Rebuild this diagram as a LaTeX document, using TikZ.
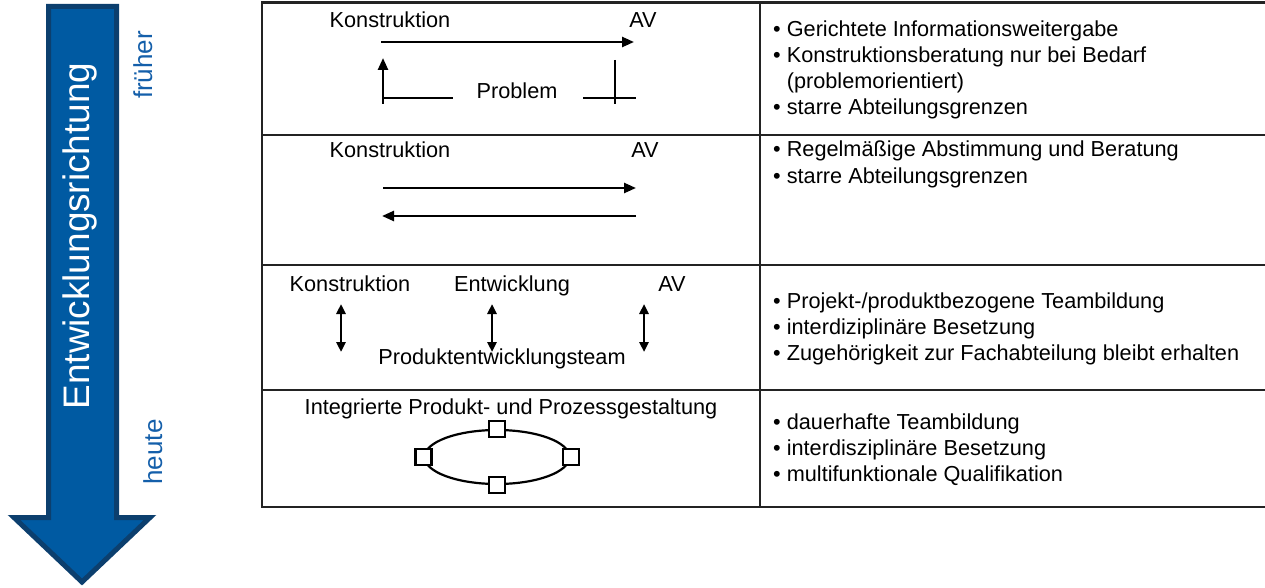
\documentclass[tikz,border=0pt]{standalone}
\usepackage{fontspec}
\setmainfont{Liberation Sans}
\usetikzlibrary{arrows.meta,shapes.geometric}

\definecolor{arrowblue}{RGB}{0,90,162}
\definecolor{arrowdark}{RGB}{12,63,110}
\definecolor{labelblue}{RGB}{20,95,170}
\definecolor{gridgray}{RGB}{35,35,35}

\tikzset{
  txt/.style={font=\fontsize{21.7}{26}\selectfont, inner sep=0pt, anchor=base},
  item/.style={txt, anchor=base west},
  flow/.style={line width=2.5pt, -{Triangle[length=12pt,width=10pt]}},
  twoway/.style={line width=2.5pt, {Triangle[length=10pt,width=9pt]}-{Triangle[length=10pt,width=9pt]}},
  plain/.style={line width=2.5pt},
  member/.style={draw, line width=2.2pt, fill=white, minimum size=16pt, inner sep=0pt},
  rule/.style={gridgray, line width=2.6pt},
}

\begin{document}
\begin{tikzpicture}[x=1pt,y=-1pt]
\useasboundingbox (0,0) rectangle (1265,588);

% Direction arrow
\draw[line width=5pt, fill=arrowblue, draw=arrowdark, line join=miter]
  (48.5,6.5) -- (116.5,6.5) -- (116.5,517.5) -- (150,517.5) -- (82,582)
  -- (14,517.5) -- (48.5,517.5) -- cycle;
\node[font=\fontsize{36.9}{40}\selectfont, white, inner sep=0pt, anchor=base, rotate=90] (dir) at (89.5,236) {Entwicklungsrichtung};
\node[font=\fontsize{26}{30}\selectfont, labelblue, inner sep=0pt, anchor=base, rotate=90] (early) at (152,65) {früher};
\node[font=\fontsize{26}{30}\selectfont, labelblue, inner sep=0pt, anchor=base, rotate=90] (today) at (162,452) {heute};

% Table
\draw[rule] (262,2.5) -- (1280,2.5);
\draw[rule] (262,135) -- (1280,135);
\draw[rule] (262,265) -- (1280,265);
\draw[rule] (262,390) -- (1280,390);
\draw[rule] (262,507) -- (1280,507);
\draw[rule] (262,1.2) -- (262,508.3);
\draw[rule] (760,1.2) -- (760,508.3);

%%%%%%%%%% Row 1 %%%%%%%%%%
\node[txt] (k1) at (390,28) {Konstruktion};
\node[txt] (av1) at (643,28) {AV};
\node[txt] (prob) at (517,99) {Problem};
\coordinate (a1) at (381,42);
\coordinate (b1) at (634,42);
\draw[flow] (a1) -- (b1);
\coordinate (pl0) at (383,104);
\coordinate (pl1) at (383,58);
\coordinate (pl2) at (383,98);
\coordinate (pl3) at (453,98);
\draw[flow] (pl0) -- (pl1);
\draw[plain] (pl2) -- (pl3);
\coordinate (pr0) at (615,60);
\coordinate (pr1) at (615,104);
\coordinate (pr2) at (583,98);
\coordinate (pr3) at (636,98);
\draw[plain] (pr0) -- (pr1);
\draw[plain] (pr2) -- (pr3);

\node[item] (t11) at (773,37) {• Gerichtete Informationsweitergabe};
\node[item] (t12) at (773,63) {• Konstruktionsberatung nur bei Bedarf};
\node[item] (t13) at (773,89) {\phantom{• }(problemorientiert)};
\node[item] (t14) at (773,115) {• starre Abteilungsgrenzen};

%%%%%%%%%% Row 2 %%%%%%%%%%
\node[txt] (k2) at (390,158) {Konstruktion};
\node[txt] (av2) at (645,158) {AV};
\coordinate (a2) at (383,188);
\coordinate (b2) at (636,188);
\coordinate (a3) at (636,216);
\coordinate (b3) at (382,216);
\draw[flow] (a2) -- (b2);
\draw[flow] (a3) -- (b3);

\node[item] (t21) at (773,157) {• Regelmäßige Abstimmung und Beratung};
\node[item] (t22) at (773,183) {• starre Abteilungsgrenzen};

%%%%%%%%%% Row 3 %%%%%%%%%%
\node[txt] (k3) at (350,291) {Konstruktion};
\node[txt] (ent) at (512,291) {Entwicklung};
\node[txt] (av3) at (672,291) {AV};
\node[txt] (team) at (502,364) {Produktentwicklungsteam};
\foreach \x [count=\i] in {341,492,644}
{
    \coordinate (u\i) at (\x,304);
    \coordinate (d\i) at (\x,352);
    \draw[twoway] (u\i) -- (d\i);
}

\node[item] (t31) at (773,308) {• Projekt-/produktbezogene Teambildung};
\node[item] (t32) at (773,334) {• interdiziplinäre Besetzung};
\node[item] (t33) at (773,360) {• Zugehörigkeit zur Fachabteilung bleibt erhalten};

%%%%%%%%%% Row 4 %%%%%%%%%%
\node[txt] (ipp) at (511,414) {Integrierte Produkt- und Prozessgestaltung};
\node[draw, ellipse, line width=2.2pt, minimum width=145pt, minimum height=54pt, inner sep=0pt] (ring) at (497,457) {};
\foreach \a in {north,south,east,west}
{
    \node[member] at (ring.\a) {};
}

\node[item] (t41) at (773,429) {• dauerhafte Teambildung};
\node[item] (t42) at (773,455) {• interdisziplinäre Besetzung};
\node[item] (t43) at (773,481) {• multifunktionale Qualifikation};

\end{tikzpicture}
\end{document}
